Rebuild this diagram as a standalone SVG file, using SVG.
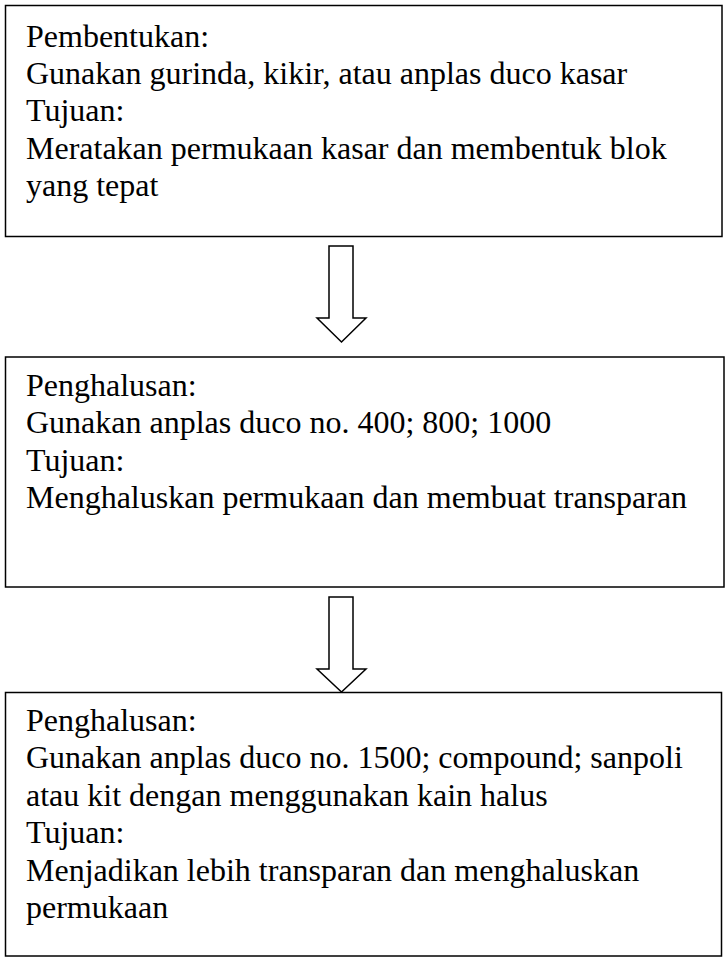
<svg xmlns="http://www.w3.org/2000/svg" width="726" height="959" viewBox="0 0 726 959">
<style>
.box{fill:#fff;stroke:#000;stroke-width:1.5}
.arrow{fill:#fff;stroke:#000;stroke-width:1.5;stroke-linejoin:miter}
text{font-family:"Liberation Serif","Times New Roman",serif;font-size:32px;fill:#000}
</style>
<rect width="726" height="959" fill="#fff"/>
<g id="connectors">
<path class="arrow" d="M329,246 H353 V318 H366 L341.5,342 L317,318 H329 Z"/>
<path class="arrow" d="M329,597 H353 V669 H366 L341.5,692 L317,669 H329 Z"/>
</g>
<g id="node1">
<rect class="box" x="5.5" y="5.5" width="716.5" height="231"/>
<text x="26" y="46.7">Pembentukan:</text>
<text x="26" y="84">Gunakan gurinda, kikir, atau anplas duco kasar</text>
<text x="26" y="121.3">Tujuan:</text>
<text x="26" y="158.6">Meratakan permukaan kasar dan membentuk blok</text>
<text x="26" y="195.9">yang tepat</text>
</g>
<g id="node2">
<rect class="box" x="5.5" y="357" width="718.5" height="230"/>
<text x="26" y="395.5">Penghalusan:</text>
<text x="26" y="433">Gunakan anplas duco no. 400; 800; 1000</text>
<text x="26" y="470.5">Tujuan:</text>
<text x="26" y="508">Menghaluskan permukaan dan membuat transparan</text>
</g>
<g id="node3">
<rect class="box" x="5.5" y="692.5" width="716" height="263.5"/>
<text x="26" y="730.5">Penghalusan:</text>
<text x="26" y="768">Gunakan anplas duco no. 1500; compound; sanpoli</text>
<text x="26" y="805.5">atau kit dengan menggunakan kain halus</text>
<text x="26" y="843">Tujuan:</text>
<text x="26" y="880.5">Menjadikan lebih transparan dan menghaluskan</text>
<text x="26" y="918">permukaan</text>
</g>
</svg>
